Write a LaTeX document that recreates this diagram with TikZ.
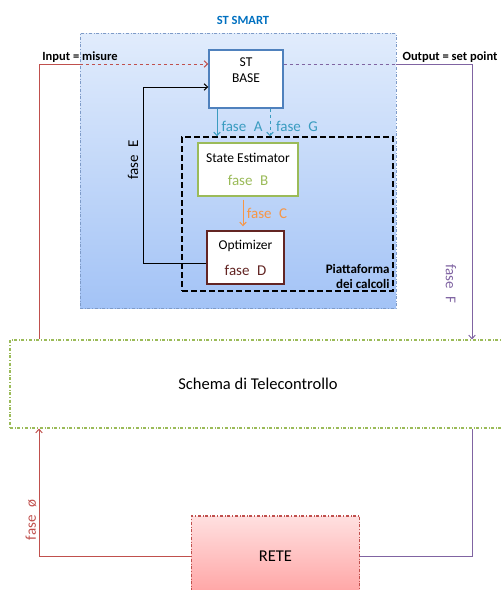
\documentclass[tikz,border=0pt]{standalone}
\usepackage{fontspec}
\setmainfont{Carlito}
\usepackage{xcolor}
\usepackage{tikz}
\usetikzlibrary{positioning, arrows.meta}
\definecolor{smartblue}{HTML}{0070C0}
\definecolor{smartedge}{HTML}{7E9BC8}
\definecolor{smarttop}{HTML}{E1ECFC}
\definecolor{smartbot}{HTML}{A3C3F6}
\definecolor{baseblue}{HTML}{4F81BD}
\definecolor{fasecyan}{HTML}{3A9CC0}
\definecolor{estgreen}{HTML}{9BBB59}
\definecolor{faseorange}{HTML}{F79646}
\definecolor{optred}{HTML}{632523}
\definecolor{netred}{HTML}{C0504D}
\definecolor{retetop}{HTML}{FFE0E0}
\definecolor{retebot}{HTML}{FFA3A3}
\definecolor{outpurple}{HTML}{8064A2}
\newcommand{\boxfont}{\fontsize{13.5}{16}\selectfont}
\newcommand{\fasefont}{\fontsize{15}{17}\selectfont}
\newcommand{\bigfont}{\fontsize{16.5}{19}\selectfont}
\newcommand{\faseL}[1]{fase\enspace #1}

\begin{document}
\begin{tikzpicture}[x=1pt, y=-1pt, >={Straight Barb[length=3.5pt, width=6.5pt]},
                    every node/.style={inner sep=0pt},
                    lbltxt/.style={font=\fontsize{12.5}{14}\selectfont\bfseries},
                    fasetxt/.style={font=\fasefont},
                    link/.style={line width=1pt}]
  \useasboundingbox (0,0) rectangle (501,590);

  % ST SMART area
  \node[draw=smartedge, dash dot, top color=smarttop, bottom color=smartbot,
        minimum width=316, minimum height=275] (smart) at (238,171) {};
  \node[lbltxt, text=smartblue] (smartlbl) at (243,20) {ST SMART};

  % piattaforma
  \node[draw, line width=1.4pt, dash pattern=on 6pt off 3pt,
        minimum width=211, minimum height=154] (plat) at (287.5,214) {};
  \node[lbltxt, font=\fontsize{13}{15}\selectfont\bfseries, align=right,
        above left=3pt and 4pt of plat.south east] (platlbl)
    {Piattaforma\\dei calcoli};

  % blocks
  \node[draw=baseblue, line width=1.4pt, fill=white, minimum width=74,
        minimum height=58, font=\boxfont, align=center, text depth=17pt] (stbase)
    at (246,79) {ST\\BASE};
  \node[draw=estgreen, line width=1.2pt, fill=white, minimum width=100,
        minimum height=53, font=\boxfont, align=center] (est) at (248,169.5)
    {State Estimator\\[7pt]\textcolor{estgreen}{\fasefont fase\enspace B}};
  \node[draw=optred, line width=1.4pt, fill=white, minimum width=77,
        minimum height=53, font=\boxfont, align=center] (opt) at (245.5,257.5)
    {Optimizer\\[10pt]\textcolor{optred}{\fasefont fase\enspace D}};
  \node[draw=estgreen, dash dot, line width=1.2pt, minimum width=496,
        minimum height=88, font=\bigfont] (tele) at (258,384)
    {Schema di Telecontrollo};
  \node[draw=netred, dash dot, line width=1.3pt, top color=retetop,
        bottom color=retebot, minimum width=168, minimum height=80,
        font=\bigfont] (rete) at (275.5,556) {RETE};

  % input / output
  \coordinate (inbend) at (39,64);
  \coordinate (outbend) at (472,64);
  \draw[link, netred] (tele.north -| inbend) -- (inbend) -- (smart.west |- inbend);
  \draw[link, netred, dashed, ->] (smart.west |- inbend) -- (stbase.west |- inbend);
  \node[lbltxt] (inlbl) at (80,57) {Input = misure};
  \draw[link, outpurple, dashed] (stbase.east |- outbend) -- (smart.east |- outbend);
  \draw[link, outpurple, ->] (smart.east |- outbend) -- (outbend) -- (tele.north -| outbend);
  \node[lbltxt] (outlbl) at (450,57) {Output = set point};

  % fasi
  \coordinate (ax) at (217,0);
  \coordinate (gx) at (270,0);
  \coordinate (cx) at (243,0);
  \draw[link, fasecyan, ->] (stbase.south -| ax) -- (plat.north -| ax);
  \draw[link, fasecyan, dashed, ->] (stbase.south -| gx) -- (plat.north -| gx);
  \node[fasetxt, text=fasecyan] (faseA) at (242,126) {\faseL{A}};
  \node[fasetxt, text=fasecyan] (faseG) at (297,126) {\faseL{G}};
  \draw[link, faseorange, ->, shorten <=3pt, shorten >=4pt] (est.south -| cx) -- (opt.north -| cx);
  \node[fasetxt, text=faseorange] (faseC) at (267,213) {\faseL{C}};

  \coordinate (ebot) at (143,263);
  \coordinate (etop) at (143,87);
  \draw[link, ->] (opt.west |- ebot) -- (ebot) -- (etop) -- (stbase.west |- etop);
  \node[fasetxt, rotate=90] (faseE) at (133,160) {\faseL{E}};
  \node[fasetxt, rotate=-90, text=outpurple] (faseF) at (451,284) {\faseL{F}};

  % rete
  \draw[link, netred, ->] (rete.west) -| (tele.south -| inbend);
  \draw[link, outpurple] (rete.east) -| (tele.south -| outbend);
  \node[fasetxt, rotate=90, text=netred] (fase0) at (31,520) {\faseL{ø}};
\end{tikzpicture}
\end{document}
